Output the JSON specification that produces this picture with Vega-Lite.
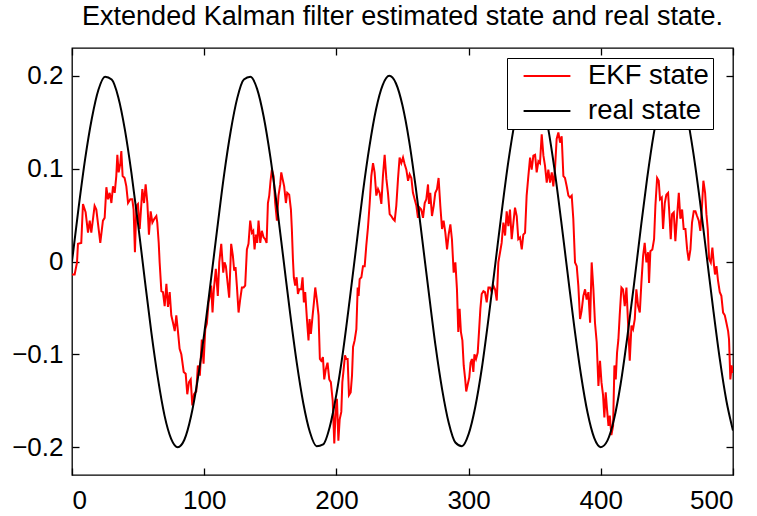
{
"$schema": "https://vega.github.io/schema/vega-lite/v6.json",
"width": 661, "height": 427,
"autosize": {"type": "none"},
"padding": {"left": 72, "top": 48, "right": 24, "bottom": 41},
"background": "white",
"title": {"text": "Extended Kalman filter estimated state and real state.", "fontSize": 27, "font": "Liberation Sans", "fontWeight": "normal", "color": "black", "anchor": "middle", "baseline": "alphabetic", "offset": -5},
"datasets": {
"ekf": [
{"t":0,"v":-0.014},{"t":2,"v":-0.014},{"t":3.8,"v":-0.001},{"t":4.5,"v":0.019},{"t":7,"v":0.020},{"t":8.3,"v":0.062},{"t":10.3,"v":0.053},{"t":12.1,"v":0.031},{"t":13.4,"v":0.044},{"t":14.6,"v":0.031},{"t":17.1,"v":0.060},{"t":18.4,"v":0.056},{"t":21.4,"v":0.020},{"t":23.4,"v":0.044},{"t":24.7,"v":0.047},{"t":26,"v":0.080},{"t":27.2,"v":0.067},{"t":28.5,"v":0.074},{"t":29.8,"v":0.063},{"t":31,"v":0.081},{"t":32.3,"v":0.074},{"t":33.5,"v":0.092},{"t":34.3,"v":0.115},{"t":35.3,"v":0.096},{"t":36.6,"v":0.106},{"t":37.3,"v":0.119},{"t":38.3,"v":0.092},{"t":39.8,"v":0.090},{"t":41.1,"v":0.081},{"t":42.4,"v":0.063},{"t":44.1,"v":0.067},{"t":45.6,"v":0.067},{"t":46.6,"v":0.056},{"t":47.6,"v":0.010},{"t":48.7,"v":0.060},{"t":49.9,"v":0.062},{"t":51.2,"v":0.035},{"t":53.2,"v":0.078},{"t":54.5,"v":0.063},{"t":55.7,"v":0.083},{"t":57,"v":0.063},{"t":58.2,"v":0.029},{"t":59.5,"v":0.054},{"t":60.8,"v":0.042},{"t":62.3,"v":0.046},{"t":63.8,"v":0.049},{"t":64.5,"v":0.042},{"t":65.6,"v":0.020},{"t":66.3,"v":-0.001},{"t":67.6,"v":-0.032},{"t":68.8,"v":-0.033},{"t":70.1,"v":-0.048},{"t":71.4,"v":-0.024},{"t":72.6,"v":-0.049},{"t":73.9,"v":-0.033},{"t":75.1,"v":-0.058},{"t":76.4,"v":-0.066},{"t":77.7,"v":-0.075},{"t":78.9,"v":-0.058},{"t":80.2,"v":-0.076},{"t":81.4,"v":-0.094},{"t":82.7,"v":-0.100},{"t":84.5,"v":-0.119},{"t":86,"v":-0.121},{"t":87.2,"v":-0.143},{"t":88.5,"v":-0.130},{"t":89.8,"v":-0.127},{"t":91,"v":-0.155},{"t":92.3,"v":-0.143},{"t":94,"v":-0.140},{"t":95.2,"v":-0.112},{"t":96.7,"v":-0.123},{"t":98.2,"v":-0.084},{"t":99.5,"v":-0.110},{"t":100.8,"v":-0.073},{"t":102,"v":-0.067},{"t":103.3,"v":-0.044},{"t":104.3,"v":-0.037},{"t":105.3,"v":-0.026},{"t":106.3,"v":-0.055},{"t":107.3,"v":-0.030},{"t":108.8,"v":-0.008},{"t":110.3,"v":-0.037},{"t":111.4,"v":-0.001},{"t":112.9,"v":0.019},{"t":114.4,"v":-0.012},{"t":115.4,"v":-0.001},{"t":116.4,"v":-0.005},{"t":117.7,"v":-0.023},{"t":118.9,"v":-0.039},{"t":120.4,"v":0.019},{"t":121.7,"v":0.006},{"t":122.7,"v":-0.010},{"t":123.7,"v":-0.006},{"t":124.7,"v":-0.026},{"t":126,"v":-0.055},{"t":127.2,"v":-0.041},{"t":128.5,"v":-0.028},{"t":129.8,"v":-0.028},{"t":131,"v":-0.026},{"t":132.3,"v":0.013},{"t":133.5,"v":0.019},{"t":134.8,"v":0.044},{"t":136.1,"v":0.031},{"t":137.1,"v":0.033},{"t":138.1,"v":0.013},{"t":139.1,"v":0.029},{"t":140.1,"v":0.020},{"t":141.1,"v":0.044},{"t":142.4,"v":0.020},{"t":143.6,"v":0.033},{"t":144.9,"v":0.026},{"t":146.1,"v":0.024},{"t":147.2,"v":0.020},{"t":148.2,"v":0.063},{"t":149.2,"v":0.071},{"t":150.2,"v":0.087},{"t":151.2,"v":0.099},{"t":152.5,"v":0.092},{"t":153.7,"v":0.063},{"t":155,"v":0.044},{"t":156.2,"v":0.071},{"t":157.5,"v":0.083},{"t":158.3,"v":0.096},{"t":159.3,"v":0.089},{"t":160.5,"v":0.081},{"t":161.8,"v":0.063},{"t":162.8,"v":0.074},{"t":164.3,"v":0.072},{"t":165.6,"v":0.056},{"t":166.3,"v":0.035},{"t":167.1,"v":0.003},{"t":167.8,"v":-0.017},{"t":168.8,"v":-0.026},{"t":169.9,"v":-0.017},{"t":170.9,"v":-0.035},{"t":171.9,"v":-0.030},{"t":173.4,"v":-0.030},{"t":174.4,"v":-0.017},{"t":175.4,"v":-0.044},{"t":176.4,"v":-0.033},{"t":177.7,"v":-0.062},{"t":178.9,"v":-0.085},{"t":179.7,"v":-0.062},{"t":180.7,"v":-0.078},{"t":181.9,"v":-0.060},{"t":183,"v":-0.044},{"t":184,"v":-0.028},{"t":185.2,"v":-0.041},{"t":186.5,"v":-0.058},{"t":187.5,"v":-0.105},{"t":188.5,"v":-0.107},{"t":189.8,"v":-0.103},{"t":190.8,"v":-0.127},{"t":192,"v":-0.116},{"t":193.3,"v":-0.109},{"t":194.6,"v":-0.127},{"t":195.8,"v":-0.130},{"t":197.2,"v":-0.150},{"t":198.4,"v":-0.196},{"t":199.4,"v":-0.162},{"t":200.4,"v":-0.148},{"t":201.5,"v":-0.193},{"t":202.5,"v":-0.170},{"t":203.7,"v":-0.162},{"t":204.5,"v":-0.130},{"t":205.5,"v":-0.116},{"t":206.5,"v":-0.101},{"t":207.5,"v":-0.105},{"t":208.5,"v":-0.105},{"t":209.5,"v":-0.144},{"t":210.8,"v":-0.141},{"t":211.8,"v":-0.123},{"t":212.6,"v":-0.092},{"t":213.8,"v":-0.085},{"t":215.1,"v":-0.073},{"t":216.1,"v":-0.028},{"t":216.8,"v":-0.037},{"t":217.6,"v":-0.019},{"t":218.9,"v":-0.017},{"t":220.1,"v":-0.005},{"t":221.4,"v":-0.005},{"t":222.6,"v":0.017},{"t":223.9,"v":0.037},{"t":225.2,"v":0.063},{"t":226.4,"v":0.092},{"t":227.7,"v":0.106},{"t":228.9,"v":0.096},{"t":230.2,"v":0.071},{"t":231.5,"v":0.078},{"t":232.7,"v":0.074},{"t":234,"v":0.062},{"t":235.2,"v":0.092},{"t":236.5,"v":0.115},{"t":237.8,"v":0.089},{"t":239,"v":0.074},{"t":240.3,"v":0.051},{"t":241.5,"v":0.049},{"t":242.8,"v":0.046},{"t":244.1,"v":0.044},{"t":245.3,"v":0.060},{"t":246.6,"v":0.089},{"t":247.8,"v":0.112},{"t":249.1,"v":0.106},{"t":250.4,"v":0.112},{"t":251.6,"v":0.105},{"t":252.9,"v":0.099},{"t":254.2,"v":0.087},{"t":255.4,"v":0.094},{"t":256.7,"v":0.090},{"t":257.9,"v":0.074},{"t":259.2,"v":0.067},{"t":260.5,"v":0.060},{"t":261.7,"v":0.047},{"t":263,"v":0.058},{"t":264.2,"v":0.056},{"t":265.5,"v":0.047},{"t":266.8,"v":0.063},{"t":268,"v":0.067},{"t":269.3,"v":0.083},{"t":270,"v":0.062},{"t":271,"v":0.074},{"t":272.3,"v":0.049},{"t":273.6,"v":0.060},{"t":274.8,"v":0.074},{"t":276.1,"v":0.078},{"t":277.3,"v":0.090},{"t":278.6,"v":0.060},{"t":279.9,"v":0.035},{"t":281.1,"v":0.044},{"t":282.4,"v":0.031},{"t":283.7,"v":0.013},{"t":284.9,"v":0.029},{"t":286.2,"v":0.040},{"t":287.4,"v":0.024},{"t":288.7,"v":-0.012},{"t":290,"v":-0.001},{"t":291.2,"v":-0.030},{"t":292.2,"v":-0.076},{"t":293.2,"v":-0.051},{"t":294.2,"v":-0.076},{"t":295.3,"v":-0.085},{"t":296.3,"v":-0.112},{"t":297.3,"v":-0.125},{"t":298.2,"v":-0.140},{"t":299.4,"v":-0.132},{"t":300.5,"v":-0.125},{"t":301.5,"v":-0.109},{"t":302.5,"v":-0.105},{"t":303.6,"v":-0.119},{"t":304.4,"v":-0.100},{"t":305.6,"v":-0.105},{"t":306.9,"v":-0.098},{"t":307.9,"v":-0.075},{"t":308.9,"v":-0.051},{"t":309.9,"v":-0.035},{"t":311.2,"v":-0.032},{"t":312.4,"v":-0.033},{"t":313.7,"v":-0.044},{"t":315,"v":-0.028},{"t":316.2,"v":-0.028},{"t":317.5,"v":-0.033},{"t":318.7,"v":-0.026},{"t":320,"v":-0.030},{"t":321.3,"v":-0.042},{"t":322.5,"v":-0.001},{"t":323.8,"v":0.010},{"t":325,"v":0.020},{"t":326.3,"v":0.042},{"t":327.6,"v":0.028},{"t":328.8,"v":0.054},{"t":330.1,"v":0.038},{"t":331.3,"v":0.056},{"t":332.6,"v":0.024},{"t":333.9,"v":0.042},{"t":335.1,"v":0.058},{"t":336.4,"v":0.049},{"t":337.6,"v":0.024},{"t":338.9,"v":0.026},{"t":340.2,"v":0.013},{"t":341.4,"v":0.029},{"t":342.7,"v":0.031},{"t":343.9,"v":0.071},{"t":345.2,"v":0.092},{"t":346.5,"v":0.112},{"t":347.7,"v":0.099},{"t":349,"v":0.114},{"t":350.3,"v":0.115},{"t":351.5,"v":0.096},{"t":352.8,"v":0.108},{"t":354,"v":0.106},{"t":355.3,"v":0.137},{"t":356.6,"v":0.114},{"t":357.8,"v":0.103},{"t":359.1,"v":0.085},{"t":360.3,"v":0.099},{"t":361.6,"v":0.085},{"t":362.9,"v":0.096},{"t":364.1,"v":0.081},{"t":365.4,"v":0.101},{"t":366.6,"v":0.132},{"t":367.9,"v":0.139},{"t":369.2,"v":0.128},{"t":370.4,"v":0.135},{"t":371.7,"v":0.092},{"t":372.9,"v":0.090},{"t":374.2,"v":0.081},{"t":375.5,"v":0.071},{"t":376.7,"v":0.069},{"t":378,"v":0.071},{"t":379.2,"v":0.046},{"t":380.5,"v":-0.001},{"t":381.8,"v":-0.005},{"t":383,"v":-0.026},{"t":384.3,"v":-0.062},{"t":385.5,"v":-0.053},{"t":386.8,"v":-0.037},{"t":388.1,"v":-0.030},{"t":389.3,"v":-0.041},{"t":390.6,"v":-0.033},{"t":391.9,"v":-0.066},{"t":393.1,"v":-0.001},{"t":394.4,"v":-0.030},{"t":395.6,"v":-0.066},{"t":396.9,"v":-0.087},{"t":398.2,"v":-0.134},{"t":399.4,"v":-0.107},{"t":400.5,"v":-0.130},{"t":401.7,"v":-0.144},{"t":402.7,"v":-0.168},{"t":403.7,"v":-0.141},{"t":404.7,"v":-0.159},{"t":405.8,"v":-0.177},{"t":406.8,"v":-0.166},{"t":408,"v":-0.187},{"t":409.3,"v":-0.177},{"t":410.3,"v":-0.112},{"t":411.3,"v":-0.127},{"t":412.3,"v":-0.098},{"t":413.3,"v":-0.084},{"t":414.3,"v":-0.058},{"t":415.6,"v":-0.028},{"t":416.8,"v":-0.030},{"t":418.1,"v":-0.048},{"t":419.4,"v":-0.028},{"t":420.6,"v":-0.066},{"t":421.9,"v":-0.107},{"t":423.2,"v":-0.069},{"t":424.4,"v":-0.073},{"t":425.7,"v":-0.062},{"t":426.9,"v":-0.030},{"t":428.2,"v":-0.048},{"t":429.5,"v":-0.055},{"t":430.7,"v":-0.023},{"t":432,"v":0.006},{"t":433.2,"v":0.020},{"t":434.5,"v":-0.001},{"t":435.8,"v":0.010},{"t":436.5,"v":-0.023},{"t":437.5,"v":0.011},{"t":439,"v":0.013},{"t":440.3,"v":0.024},{"t":441.3,"v":0.060},{"t":442.6,"v":0.090},{"t":443.8,"v":0.087},{"t":444.8,"v":0.067},{"t":446.1,"v":0.069},{"t":447.1,"v":0.035},{"t":448.4,"v":0.063},{"t":449.6,"v":0.072},{"t":450.9,"v":0.074},{"t":452.1,"v":0.046},{"t":452.9,"v":0.024},{"t":453.9,"v":0.051},{"t":455.2,"v":0.053},{"t":456.4,"v":0.022},{"t":457.7,"v":0.049},{"t":459,"v":0.074},{"t":460.2,"v":0.046},{"t":461.5,"v":0.056},{"t":462.7,"v":0.035},{"t":464,"v":0.035},{"t":465.3,"v":0.013},{"t":466.5,"v":0.001},{"t":467.8,"v":0.013},{"t":469,"v":0.042},{"t":470.3,"v":0.054},{"t":471.6,"v":0.054},{"t":472.8,"v":0.049},{"t":474.1,"v":0.044},{"t":475.3,"v":0.033},{"t":476.4,"v":0.056},{"t":477.6,"v":0.087},{"t":478.9,"v":0.074},{"t":479.9,"v":0.051},{"t":480.9,"v":0.035},{"t":481.9,"v":0.003},{"t":483.2,"v":-0.001},{"t":484.4,"v":0.015},{"t":485.4,"v":-0.001},{"t":486.4,"v":-0.014},{"t":487.5,"v":-0.005},{"t":488.7,"v":-0.021},{"t":490,"v":-0.033},{"t":491.2,"v":-0.037},{"t":492.5,"v":-0.055},{"t":493.8,"v":-0.058},{"t":495,"v":-0.066},{"t":496.3,"v":-0.075},{"t":497,"v":-0.084},{"t":498,"v":-0.127},{"t":499,"v":-0.112},{"t":500,"v":-0.120}
],
"real": [
{"t":0,"v":0},{"t":5,"v":0.058},{"t":10,"v":0.111},{"t":15,"v":0.154},{"t":20,"v":0.185},{"t":25,"v":0.199},{"t":30,"v":0.196},{"t":35,"v":0.177},{"t":40,"v":0.142},{"t":45,"v":0.095},{"t":50,"v":0.040},{"t":55,"v":-0.019},{"t":60,"v":-0.076},{"t":65,"v":-0.126},{"t":70,"v":-0.166},{"t":75,"v":-0.191},{"t":80,"v":-0.200},{"t":85,"v":-0.192},{"t":90,"v":-0.167},{"t":95,"v":-0.128},{"t":100,"v":-0.078},{"t":105,"v":-0.021},{"t":110,"v":0.037},{"t":115,"v":0.093},{"t":120,"v":0.140},{"t":125,"v":0.176},{"t":130,"v":0.196},{"t":135,"v":0.199},{"t":140,"v":0.186},{"t":145,"v":0.156},{"t":150,"v":0.113},{"t":155,"v":0.060},{"t":160,"v":0.002},{"t":165,"v":-0.056},{"t":170,"v":-0.109},{"t":175,"v":-0.153},{"t":180,"v":-0.184},{"t":185,"v":-0.199},{"t":190,"v":-0.197},{"t":195,"v":-0.178},{"t":200,"v":-0.143},{"t":205,"v":-0.097},{"t":210,"v":-0.042},{"t":215,"v":0.016},{"t":220,"v":0.074},{"t":225,"v":0.124},{"t":230,"v":0.164},{"t":235,"v":0.190},{"t":240,"v":0.200},{"t":245,"v":0.192},{"t":250,"v":0.168},{"t":255,"v":0.130},{"t":260,"v":0.080},{"t":265,"v":0.023},{"t":270,"v":-0.035},{"t":275,"v":-0.091},{"t":280,"v":-0.138},{"t":285,"v":-0.174},{"t":290,"v":-0.195},{"t":295,"v":-0.199},{"t":300,"v":-0.186},{"t":305,"v":-0.157},{"t":310,"v":-0.115},{"t":315,"v":-0.062},{"t":320,"v":-0.005},{"t":325,"v":0.053},{"t":330,"v":0.107},{"t":335,"v":0.151},{"t":340,"v":0.183},{"t":345,"v":0.198},{"t":350,"v":0.197},{"t":355,"v":0.179},{"t":360,"v":0.145},{"t":365,"v":0.099},{"t":370,"v":0.044},{"t":375,"v":-0.014},{"t":380,"v":-0.071},{"t":385,"v":-0.122},{"t":390,"v":-0.163},{"t":395,"v":-0.190},{"t":400,"v":-0.200},{"t":405,"v":-0.193},{"t":410,"v":-0.170},{"t":415,"v":-0.132},{"t":420,"v":-0.082},{"t":425,"v":-0.026},{"t":430,"v":0.033},{"t":435,"v":0.089},{"t":440,"v":0.137},{"t":445,"v":0.173},{"t":450,"v":0.195},{"t":455,"v":0.200},{"t":460,"v":0.187},{"t":465,"v":0.159},{"t":470,"v":0.117},{"t":475,"v":0.065},{"t":480,"v":0.007},{"t":485,"v":-0.051},{"t":490,"v":-0.105},{"t":495,"v":-0.150},{"t":500,"v":-0.182}
]
},
"config": {
"view": {"stroke": "black", "strokeWidth": 1.3},
"axis": {"grid": false, "domain": false, "tickSize": -7, "tickColor": "black", "tickWidth": 1.3, "labelFont": "Liberation Sans", "labelFontSize": 26, "labelColor": "black", "title": null, "minExtent": 0},
"legend": {"labelFont": "Liberation Sans", "labelFontSize": 27.5, "labelColor": "black"}
},
"layer": [
{
"data": {"name": "ekf"},
"mark": {"type": "line", "strokeWidth": 2, "clip": true},
"encoding": {
"x": {"field": "t", "type": "quantitative", "scale": {"domain": [0, 500], "nice": false, "zero": false}, "axis": {"orient": "top", "labels": false, "values": [0, 100, 200, 300, 400, 500], "maxExtent": 0}},
"y": {"field": "v", "type": "quantitative", "scale": {"domain": [-0.23, 0.23], "nice": false, "zero": false}, "axis": {"orient": "right", "labels": false, "values": [-0.2, -0.1, 0, 0.1, 0.2], "maxExtent": 0}},
"color": {"datum": "EKF state", "scale": {"domain": ["EKF state", "real state"], "range": ["#ff0000", "#000000"]}, "legend": {"orient": "none", "legendX": 435, "legendY": 10, "title": null, "fillColor": "white", "strokeColor": "black", "padding": 4, "symbolType": "M-1.8,0H1.8", "symbolSize": 676, "symbolStrokeWidth": 2, "symbolOffset": 22, "rowPadding": 7, "labelOffset": 27}}
}
},
{
"data": {"name": "real"},
"mark": {"type": "line", "strokeWidth": 2, "interpolate": "monotone", "clip": true},
"encoding": {
"x": {"field": "t", "type": "quantitative", "scale": {"domain": [0, 500], "nice": false, "zero": false}, "axis": {"orient": "bottom", "values": [0, 100, 200, 300, 400, 500], "format": "d", "labelPadding": 19}},
"y": {"field": "v", "type": "quantitative", "scale": {"domain": [-0.23, 0.23], "nice": false, "zero": false}, "axis": {"orient": "left", "values": [-0.2, -0.1, 0, 0.1, 0.2], "format": ".1~f", "labelPadding": 16}},
"color": {"datum": "real state", "scale": {"domain": ["EKF state", "real state"], "range": ["#ff0000", "#000000"]}, "legend": {"orient": "none", "legendX": 435, "legendY": 10, "title": null, "fillColor": "white", "strokeColor": "black", "padding": 4, "symbolType": "M-1.8,0H1.8", "symbolSize": 676, "symbolStrokeWidth": 2, "symbolOffset": 22, "rowPadding": 7, "labelOffset": 27}}
}
}
],
"resolve": {"axis": {"x": "independent", "y": "independent"}}
}
